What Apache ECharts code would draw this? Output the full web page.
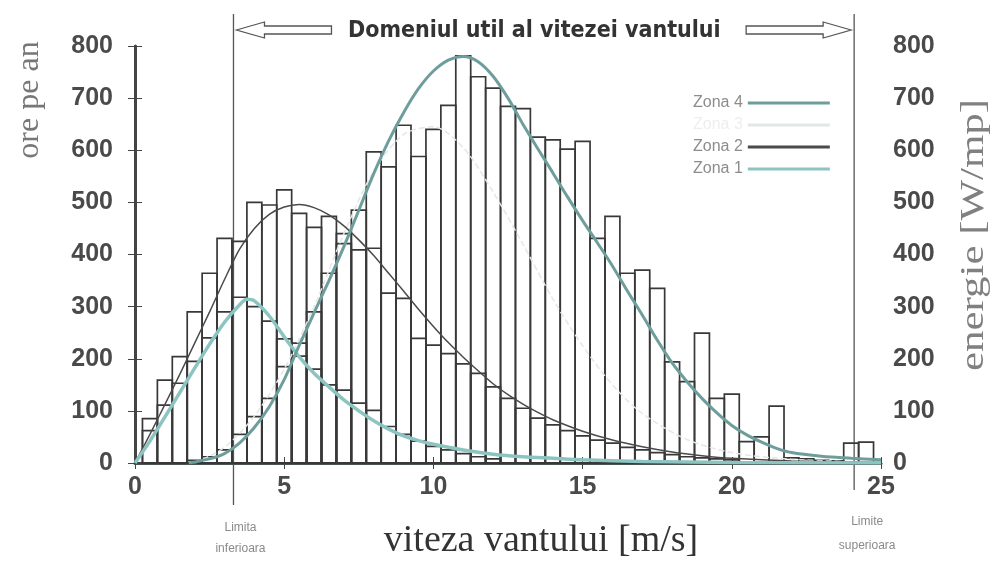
<!DOCTYPE html>
<html>
<head>
<meta charset="utf-8">
<script src="https://cdn.jsdelivr.net/npm/echarts@6/dist/echarts.min.js"></script>
<style>
  html, body { margin: 0; padding: 0; background: #fff; }
  #main { width: 996px; height: 562px; }
</style>
</head>
<body>
<div id="main"></div>
<script>
// histogram bins are 0.5 m/s wide, values = centre of bin
const binsZona2 = [0.5, 1, 1.5, 2, 2.5, 3, 3.5, 4, 4.5, 5, 5.5, 6, 6.5, 7, 7.5, 8, 8.5, 9, 9.5, 10,
  10.5, 11, 11.5, 12, 12.5, 13, 13.5, 14, 14.5, 15, 15.5, 16, 16.5, 17, 17.5, 18, 18.5, 19, 19.5, 20];
const histZona2 = [85, 159, 204, 290, 364, 431, 425, 500, 495, 524, 479, 452, 473, 440, 409, 412, 326, 316, 239, 226,
  210, 190, 172, 146, 124, 105, 86, 73, 62, 52, 44, 38, 30, 25, 20, 16, 12, 10, 8, 6];

const binsZona4 = [2, 2.5, 3, 3.5, 4, 4.5, 5, 5.5, 6, 6.5, 7, 7.5, 8, 8.5, 9, 9.5, 10, 10.5, 11, 11.5,
  12, 12.5, 13, 13.5, 14, 14.5, 15, 15.5, 16, 16.5, 17, 17.5, 18, 18.5, 19, 19.5, 20, 20.5, 21, 21.5,
  22, 22.5, 23, 23.5, 24, 24.5];
const histZona4 = [5, 12, 25, 55, 89, 124, 185, 230, 290, 364, 421, 485, 597, 568, 648, 588, 640, 686, 781, 741,
  719, 684, 680, 625, 620, 602, 617, 431, 473, 364, 370, 335, 194, 156, 249, 124, 132, 41, 50, 109,
  10, 8, 5, 4, 38, 40];

const binsZona1 = [0.5, 1, 1.5, 2, 2.5, 3, 3.5, 4, 4.5, 5, 5.5, 6, 6.5, 7, 7.5, 8, 8.5, 9, 9.5, 10, 10.5, 11, 11.5, 12];
const histZona1 = [62, 111, 153, 195, 240, 290, 318, 300, 272, 238, 205, 180, 150, 140, 115, 101, 70, 55, 42, 32, 25, 18, 12, 8];

// curbele pe zone [m/s, valoare]
const curveZona1 = [[0, 0], [0.5, 42], [1, 88], [1.5, 135], [2, 182], [2.5, 228], [3, 270], [3.5, 303], [3.75, 314],
  [4, 311], [4.5, 282], [5, 242], [5.5, 204], [6, 172], [6.5, 146], [7, 121], [7.5, 100], [8, 81], [8.5, 65],
  [9, 52], [9.5, 43], [10, 36], [11, 25], [12, 17], [13, 12], [14, 9], [15, 6], [17, 3], [20, 1], [25, 0]];
const curveZona2 = [[0, 0], [0.5, 55], [1, 112], [1.5, 170], [2, 230], [2.5, 290], [3, 352], [3.5, 410], [4, 450],
  [4.5, 477], [5, 491], [5.5, 496], [6, 490], [6.5, 476], [7, 455], [7.5, 428], [8, 398], [8.5, 364], [9, 330],
  [9.5, 295], [10, 262], [10.5, 231], [11, 203], [11.5, 177], [12, 152], [12.5, 131], [13, 113], [13.5, 97],
  [14, 83], [15, 61], [16, 44], [17, 31], [18, 21], [19, 14], [20, 9], [22, 4], [25, 1]];
const curveZona3 = [[2, 0], [3, 30], [4, 90], [5, 180], [6, 300], [7, 440], [8, 560], [9, 630], [10, 645],
  [11, 605], [12, 520], [13, 420], [14, 315], [15, 225], [16, 150], [17, 95], [18.5, 45], [20, 20], [22, 7], [25, 1]];
const curveZona4 = [[1.8, 0], [2.5, 8], [3, 18], [3.5, 38], [4, 68], [4.5, 108], [5, 160], [5.5, 225], [6, 288],
  [6.5, 350], [7, 415], [7.5, 485], [8, 555], [8.5, 618], [9, 672], [9.5, 718], [10, 752], [10.5, 773],
  [11, 780], [11.5, 770], [12, 742], [12.5, 700], [13, 650], [13.5, 603], [14, 557], [14.5, 510], [15, 465],
  [15.5, 422], [16, 378], [16.5, 330], [17, 284], [17.5, 236], [18, 192], [18.5, 156], [19, 124], [19.5, 96],
  [20, 72], [20.5, 54], [21, 40], [21.5, 28], [22, 20], [23, 13], [24, 9], [25, 6]];

const limitInf = 3.3;   // limita inferioara
const limitSup = 24.1;  // limita superioara

const pairs = (xs, ys) => xs.map((x, i) => [x, ys[i]]);

const histItem = (params, api) => {
  const c = api.value(0);
  const h = api.value(1);
  const a = api.coord([c - 0.25, h]);
  const b = api.coord([c + 0.25, 0]);
  return {
    type: 'rect',
    shape: { x: a[0], y: a[1], width: b[0] - a[0], height: b[1] - a[1] },
    style: { fill: 'none', stroke: '#383838', lineWidth: 1.7 }
  };
};

const histSeries = (name, data) => ({
  name: name,
  type: 'custom',
  renderItem: histItem,
  encode: { x: 0, y: 1 },
  data: data,
  z: 1,
  silent: true
});

const lineSeries = (name, data, color, width, type) => ({
  name: name,
  type: 'line',
  data: data,
  smooth: 0.3,
  showSymbol: false,
  lineStyle: { color: color, width: width, type: type || 'solid' },
  itemStyle: { color: color },
  z: 3
});

const labelFont = { fontFamily: 'Liberation Sans', fontWeight: 'bold', fontSize: 25, color: '#4a4a4a' };

const chart = echarts.init(document.getElementById('main'));
chart.setOption({
  animation: false,
  backgroundColor: '#fff',
  grid: { left: 135, right: 115, top: 46, bottom: 99 },
  title: {
    text: 'Domeniul util al vitezei vantului',
    left: 343, top: 15,
    textStyle: { fontFamily: 'DejaVu Sans Condensed', fontWeight: 'bold', fontSize: 23, color: '#333' }
  },
  legend: {
    data: [
      { name: 'Zona 4' },
      { name: 'Zona 3', textStyle: { color: '#eeeeee' } },
      { name: 'Zona 2' },
      { name: 'Zona 1' }
    ],
    orient: 'vertical',
    left: 688, top: 90,
    align: 'right',
    icon: 'rect',
    itemWidth: 82, itemHeight: 3, itemGap: 6,
    textStyle: { fontFamily: 'Liberation Sans', fontSize: 16, color: '#8c8c8c' }
  },
  xAxis: [{
    type: 'value', min: 0, max: 25, interval: 5, position: 'bottom',
    axisLine: { lineStyle: { color: '#4b5454', width: 3 } },
    axisTick: { inside: true, length: 6, lineStyle: { color: '#444' } },
    axisLabel: Object.assign({ margin: 12 }, labelFont),
    splitLine: { show: false }
  }, {
    type: 'value', min: 0, max: 25, interval: 5, position: 'top',
    axisLine: { lineStyle: { color: '#444', width: 2 } },
    axisTick: { inside: true, length: 6, lineStyle: { color: '#444' } },
    axisLabel: { show: false },
    splitLine: { show: false }
  }],
  yAxis: [{
    type: 'value', min: 0, max: 800, interval: 100, position: 'left',
    axisLine: { show: true, lineStyle: { color: '#444', width: 3 } },
    axisTick: { show: true, inside: true, length: 7, lineStyle: { color: '#444' } },
    axisLabel: Object.assign({ margin: 22 }, labelFont),
    splitLine: { show: false }
  }, {
    type: 'value', min: 0, max: 800, interval: 100, position: 'right',
    axisLine: { show: true, lineStyle: { color: '#444', width: 2 } },
    axisTick: { show: true, inside: true, length: 7, lineStyle: { color: '#444' } },
    axisLabel: Object.assign({ margin: 12 }, labelFont),
    splitLine: { show: false }
  }],
  series: [
    histSeries('hist zona 4', pairs(binsZona4, histZona4)),
    histSeries('hist zona 2', pairs(binsZona2, histZona2)),
    histSeries('hist zona 1', pairs(binsZona1, histZona1)),
    lineSeries('Zona 3', curveZona3, '#e2e7e7', 1.5, 'dashed'),
    lineSeries('Zona 2', curveZona2, '#4a4a4a', 1.5),
    lineSeries('Zona 1', curveZona1, '#8cc4c1', 3.5),
    lineSeries('Zona 4', curveZona4, '#6e9e9c', 3)
  ]
});

// liniile de limita, sagetile si textele, pozitionate din scala graficului
const px = v => chart.convertToPixel({ gridIndex: 0 }, [v, 0])[0];
const xL = px(limitInf);
const xR = px(limitSup);
const ay = 30;

const arrow = (tip, tail, dir) => {
  const h = tip + dir * 28;
  return {
    type: 'polygon',
    shape: { points: [[tip, ay], [h, ay - 8], [h, ay - 4], [tail, ay - 4], [tail, ay + 4], [h, ay + 4], [h, ay + 8]] },
    style: { fill: '#fff', stroke: '#555', lineWidth: 1.3 }
  };
};

chart.setOption({
  graphic: [
    { type: 'line', shape: { x1: xL, y1: 14, x2: xL, y2: 505 }, style: { stroke: '#555', lineWidth: 1.3 } },
    { type: 'line', shape: { x1: xR, y1: 14, x2: xR, y2: 490 }, style: { stroke: '#555', lineWidth: 1.3 } },
    arrow(xL + 3, xL + 98, 1),
    arrow(xR - 3, xR - 108, -1),
    {
      type: 'text', x: xL + 7, y: 517,
      style: { text: 'Limita\ninferioara', textAlign: 'center', font: '12px "Liberation Sans"', fill: '#8a8a8a', lineHeight: 21 }
    },
    {
      type: 'text', x: xR + 13, y: 510,
      style: { text: 'Limite\nsuperioara', textAlign: 'center', font: '12px "Liberation Sans"', fill: '#8a8a8a', lineHeight: 24 }
    },
    {
      type: 'text', x: 541, y: 541,
      style: { text: 'viteza vantului [m/s]', textAlign: 'center', textVerticalAlign: 'middle', font: '38px "Liberation Serif"', fill: '#333' }
    },
    {
      type: 'text', x: 30, y: 100, rotation: Math.PI / 2,
      style: { text: 'ore pe an', textAlign: 'center', textVerticalAlign: 'middle', font: '32px "Liberation Serif"', fill: '#777' }
    },
    {
      type: 'text', x: 974, y: 235, rotation: Math.PI / 2, scaleX: 1.3,
      style: { text: 'energie [W/mp]', textAlign: 'center', textVerticalAlign: 'middle', font: '33px "Liberation Serif"', fill: '#808080' }
    }
  ]
});
</script>
</body>
</html>
